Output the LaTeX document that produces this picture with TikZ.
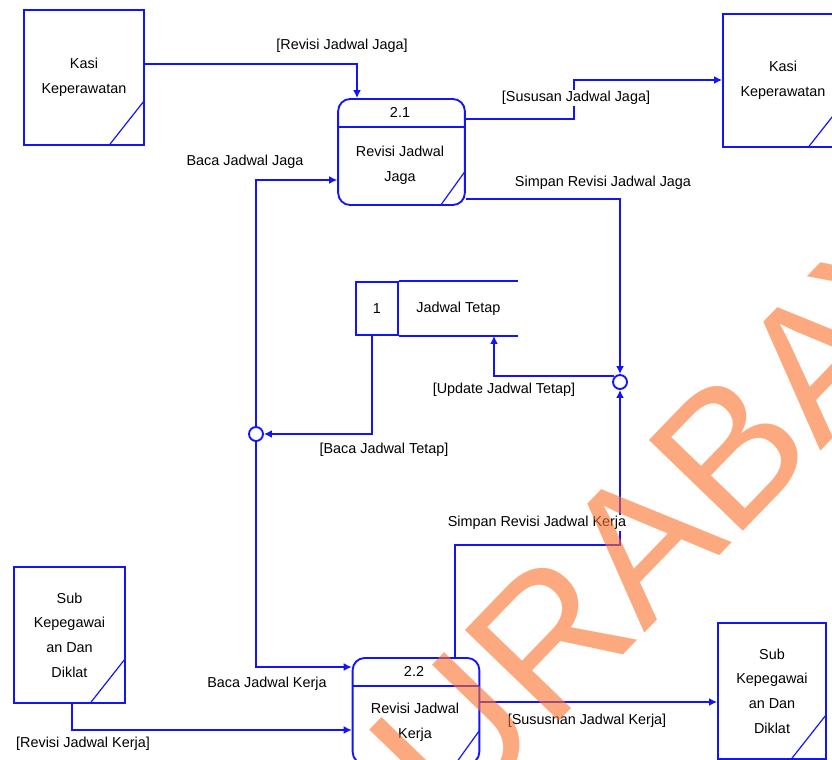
\documentclass[tikz,border=0pt]{standalone}
\usepackage{fontspec}
\setmainfont{Liberation Sans}
\usetikzlibrary{arrows.meta,positioning}

\definecolor{dfdblue}{RGB}{20,20,250}
\definecolor{wmorange}{RGB}{251,112,42}

\tikzset{
  flow/.style={draw=dfdblue, line width=1.4pt, -{Latex[length=6pt,width=6pt]}},
  flowlabel/.style={fill=white, inner sep=1pt, font=\fontsize{10.8}{13}\selectfont},
  entity/.style={draw=dfdblue, line width=1.4pt, align=center, inner sep=0pt,
    font=\fontsize{10.8}{18.5}\selectfont,
    path picture={\draw[dfdblue, line width=0.9pt]
      ([xshift=-26pt]path picture bounding box.south east) --
      ([yshift=33pt]path picture bounding box.south east);}},
  process/.style={draw=dfdblue, line width=1.4pt, rounded corners=9pt,
    minimum width=95pt, minimum height=79.5pt, inner sep=0pt,
    path picture={\draw[dfdblue, line width=1.4pt, sharp corners]
      ([yshift=-21pt]path picture bounding box.north west) --
      ([yshift=-21pt]path picture bounding box.north east);
      \draw[dfdblue, line width=0.9pt, sharp corners]
      ([xshift=-18pt]path picture bounding box.south east) --
      ([yshift=25pt]path picture bounding box.south east);}},
  proctext/.style={align=center, inner sep=0pt, font=\fontsize{10.8}{19}\selectfont},
  store/.style={draw=dfdblue, line width=1.4pt, minimum height=39.75pt, inner sep=0pt,
    font=\fontsize{10.8}{13}\selectfont},
  junction/.style={circle, draw=dfdblue, line width=1.4pt, fill=white, minimum size=10.5pt, inner sep=0pt}
}

\begin{document}
\begin{tikzpicture}[x=0.75pt, y=-0.75pt]
    \useasboundingbox (0,0) rectangle (832,760);
    \clip (0,0) rectangle (832,760);

    % external entities
    \node[entity, minimum width=90pt, minimum height=101.25pt] (kasiA) at (84,77.5) {Kasi\\Keperawatan};
    \node[entity, minimum width=90pt, minimum height=100pt] (kasiB) at (783,80.5) {Kasi\\Keperawatan};
    \node[entity, minimum width=83.25pt, minimum height=102pt] (subA) at (69.5,635) {Sub\\Kepegawai\\an Dan\\Diklat};
    \node[entity, minimum width=81pt, minimum height=102pt] (subB) at (772,691) {Sub\\Kepegawai\\an Dan\\Diklat};

    % processes
    \node[process] (p21) at (401.5,152) {};
    \node[proctext] (p21id) at (400,112) {2.1};
    \node[proctext] (p21txt) at (400,165) {Revisi Jadwal\\Jaga};
    \node[process] (p22) at (416,711) {};
    \node[proctext] (p22id) at (414,671) {2.2};
    \node[proctext] (p22txt) at (415,722.5) {Revisi Jadwal\\Kerja};

    % data store
    \node[store, minimum width=31.5pt] (ds1) at (377,308.5) {1};
    \node[store, draw=none, minimum width=87.75pt, right=0pt of ds1] (ds1name) {Jadwal Tetap};
    \draw[dfdblue, line width=1.4pt] (ds1.north east) -- (ds1name.north east);
    \draw[dfdblue, line width=1.4pt] (ds1.south east) -- (ds1name.south east);

    % bend points
    \coordinate (rj) at (357,64);
    \coordinate (sa) at (574,119);
    \coordinate (sb) at (574,80);
    \coordinate (sc) at (620,199);
    \coordinate (bj) at (256,180);
    \coordinate (bt) at (372,434);
    \coordinate (ut) at (494,377);
    \coordinate (sk) at (455,545);
    \coordinate (bk) at (256,667);
    \coordinate (rk) at (72,730);
    \coordinate (sn) at (600,702);

    % junctions
    \node[junction] (jl) at (256,434) {};
    \node[junction] (jr) at (620,382) {};

    % flows
    \draw[flow] (kasiA.east |- rj) -- (rj) -- (p21.north -| rj);
    \draw[flow] (p21.east |- sa) -- (sa) -- (sb) -- (kasiB.west |- sb);
    \draw[flow] (p21.east |- sc) -- (sc) -- (jr.north);
    \draw[flow] (jl.north) -- (bj) -- (p21.west |- bj);
    \draw[flow] (ds1.south -| bt) -- (bt) -- (jl.east);
    \draw[flow] (jr.135) -- (jr.135 -| ut) -- (ds1name.south -| ut);
    \draw[flow] (p22.north -| sk) -- (sk) -- (sk -| jr) -- (jr.south);
    \draw[flow] (jl.south) -- (bk) -- (p22.west |- bk);
    \draw[flow] (subA.south -| rk) -- (rk) -- (p22.west |- rk);
    \draw[flow] (p22.east |- sn) -- (subB.west |- sn);

    % flow labels
    \node[flowlabel] (lrj) at (342,46) {[Revisi Jadwal Jaga]};
    \node[flowlabel] (lsj) at (576,98) {[Sususan Jadwal Jaga]};
    \node[flowlabel] (lsrj) at (603,183) {Simpan Revisi Jadwal Jaga};
    \node[flowlabel] (lbj) at (245,162) {Baca Jadwal Jaga};
    \node[flowlabel] (lbt) at (384,450) {[Baca Jadwal Tetap]};
    \node[flowlabel] (lut) at (504,390) {[Update Jadwal Tetap]};
    \node[flowlabel] (lsrk) at (537,523) {Simpan Revisi Jadwal Kerja};
    \node[flowlabel] (lbk) at (267,684) {Baca Jadwal Kerja};
    \node[flowlabel] (lrk) at (83,744) {[Revisi Jadwal Kerja]};
    \node[flowlabel] (lsk) at (587,721) {[Sususnan Jadwal Kerja]};

    % watermark
    \node[text=wmorange, text opacity=0.6, rotate=46, inner sep=0pt,
      font=\fontsize{142.5}{142.5}\selectfont] (wm) at (668,515) {SURABAYA};
\end{tikzpicture}
\end{document}
